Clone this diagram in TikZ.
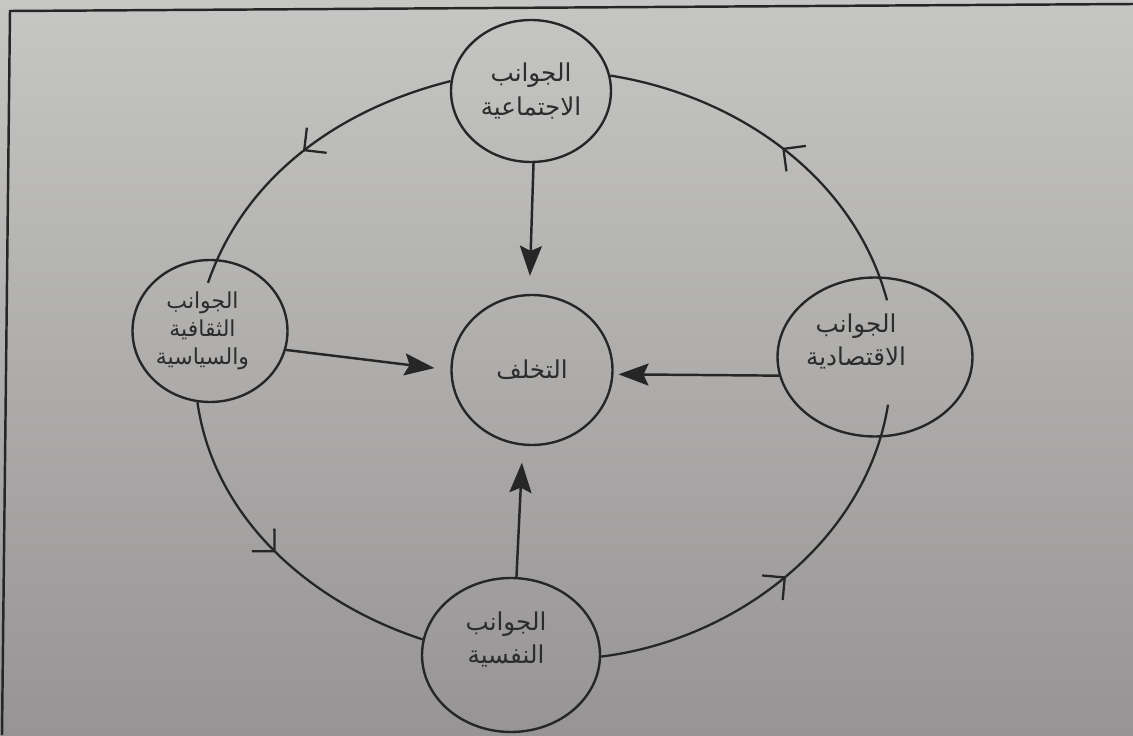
\documentclass[tikz,border=0pt]{standalone}
\usepackage{fontspec}
\usetikzlibrary{shapes.geometric,arrows.meta,decorations.markings,calc}
\newfontfamily\arabicfont[Script=Arabic]{DejaVu Sans}
\TeXXeTstate=1
\newcommand{\artxt}[1]{{\arabicfont\beginR #1\endR}}
\definecolor{bgtop}{HTML}{C6C6C4}
\definecolor{bgbot}{HTML}{969494}
\definecolor{ink}{HTML}{262626}
\definecolor{txtc}{HTML}{2C2C2C}
\begin{document}
\begin{tikzpicture}[x=0.02cm,y=0.02cm,
  bubble/.style={ellipse, draw=ink, line width=1.35pt, inner sep=0pt, align=center,
    text=txtc, font=\fontsize{14}{19}\selectfont},
  mainarrow/.style={draw=ink, line width=1.4pt,
    -{Stealth[length=0.6cm,width=0.44cm,inset=0.1cm]}},
  cycleline/.style={draw=ink, line width=1.3pt, looseness=0.92, postaction={decorate},
    decoration={markings, mark=at position 0.5 with
      {\arrow[line width=1.3pt]{Straight Barb[length=0.32cm,width=0.64cm]}}}}
]
\useasboundingbox (0,0) rectangle (1133,735);
\shade[top color=bgtop, bottom color=bgbot] (0,0) rectangle (1133,735);
\draw[ink, line width=1.4pt] (2,0) -- (10,724) -- (1133,731);

\node[bubble, minimum width=3.2cm, minimum height=2.84cm] (soc) at (531,644)
  {\artxt{الجوانب}\\\artxt{الاجتماعية}};
\node[bubble, minimum width=3.22cm, minimum height=3.0cm] (tak) at (532,365)
  {\artxt{التخلف}};
\node[bubble, minimum width=3.1cm, minimum height=2.84cm,
  font=\fontsize{12.5}{16}\selectfont] (cul) at (210,404)
  {\artxt{الجوانب}\rule{0.3cm}{0pt}\\\artxt{الثقافية}\rule{0.3cm}{0pt}\\\artxt{والسياسية}\rule{0.3cm}{0pt}};
\node[bubble, minimum width=3.9cm, minimum height=3.18cm] (eco) at (875,378)
  {\artxt{الجوانب}\rule{0.76cm}{0pt}\\\artxt{الاقتصادية}\rule{0.76cm}{0pt}\rule[-0.7cm]{0pt}{0.7cm}};
\node[bubble, minimum width=3.56cm, minimum height=3.08cm] (psy) at (511,80)
  {\artxt{الجوانب}\rule{0.2cm}{0pt}\\\artxt{النفسية}\rule{0.2cm}{0pt}\rule[-0.7cm]{0pt}{0.7cm}};

\draw[mainarrow, shorten >=0.36cm] (soc.-88) -- (tak.92);
\draw[mainarrow, shorten >=0.32cm] (cul.-14) -- (tak.west);
\draw[mainarrow, shorten >=0.1cm] (eco.191) -- (tak.-3);
\draw[mainarrow, shorten >=0.34cm] (psy.86) -- (tak.-97);

\draw[cycleline] (soc.173) to[out=194, in=71] ([shift={(-2,-24)}]cul.north);
\draw[cycleline] (cul.260) to[out=278, in=162] (psy.170);
\draw[cycleline] (psy.-1) to[out=7, in=261] ([shift={(13,33)}]eco.south);
\draw[cycleline] ([shift={(12,-24)}]eco.north) to[out=105, in=-9] (soc.11);
\end{tikzpicture}
\end{document}
